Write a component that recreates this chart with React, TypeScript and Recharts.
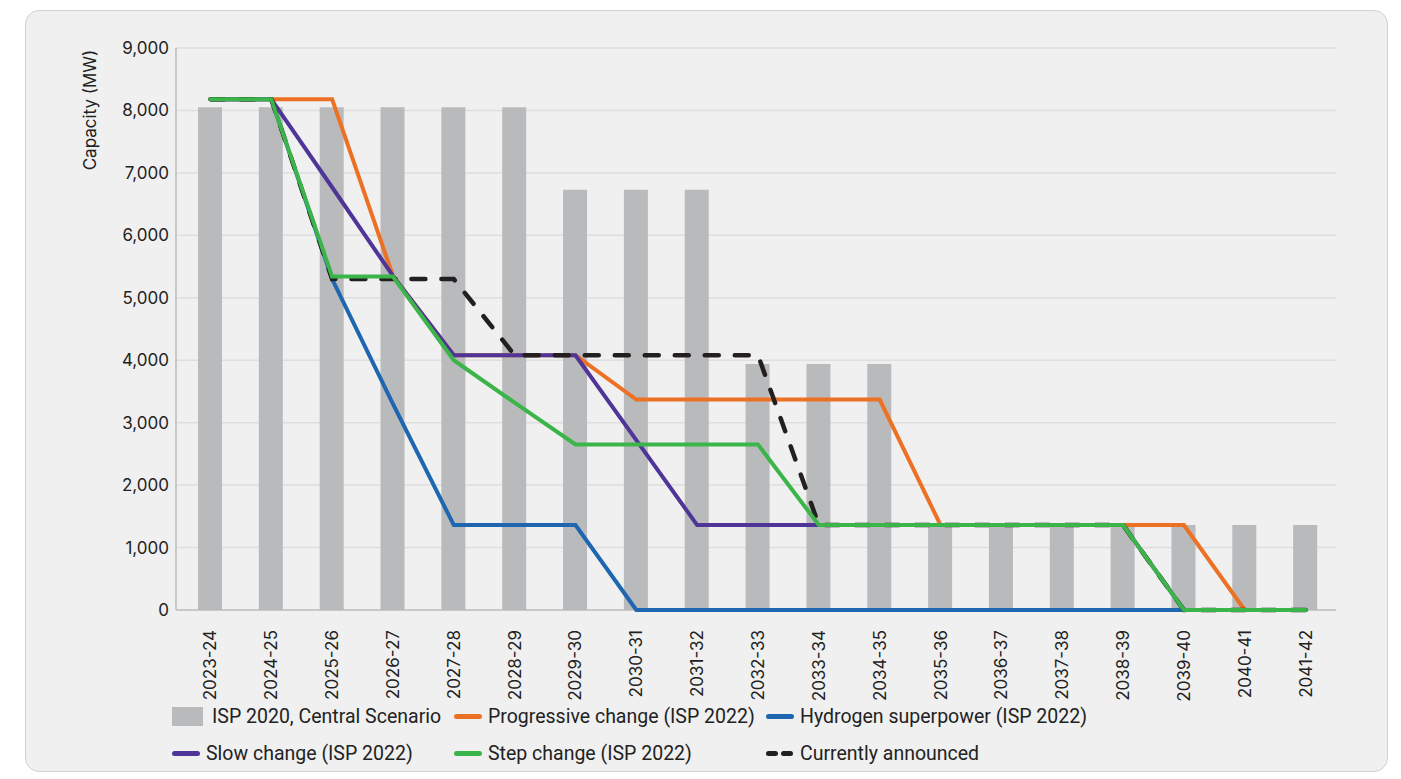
import { Bar, ComposedChart, Line, XAxis, YAxis, CartesianGrid } from 'recharts'

const categories = [
  '2023-24', '2024-25', '2025-26', '2026-27', '2027-28', '2028-29', '2029-30',
  '2030-31', '2031-32', '2032-33', '2033-34', '2034-35', '2035-36', '2036-37',
  '2037-38', '2038-39', '2039-40', '2040-41', '2041-42',
]

const isp2020 = [8050, 8050, 8050, 8050, 8050, 8050, 6730, 6730, 6730, 3940, 3940, 3940, 1360, 1360, 1360, 1360, 1360, 1360, 1360]
const progressive = [8180, 8180, 8180, 5350, 4080, 4080, 4080, 3370, 3370, 3370, 3370, 3370, 1360, 1360, 1360, 1360, 1360, 0, 0]
const hydrogen = [8180, 8180, 5300, 3300, 1360, 1360, 1360, 0, 0, 0, 0, 0, 0, 0, 0, 0, 0, 0, 0]
const slow = [8180, 8180, 6770, 5350, 4080, 4080, 4080, 2720, 1360, 1360, 1360, 1360, 1360, 1360, 1360, 1360, 0, 0, 0]
const step = [8180, 8180, 5340, 5340, 4000, 3320, 2650, 2650, 2650, 2650, 1360, 1360, 1360, 1360, 1360, 1360, 0, 0, 0]
const announced = [8180, 8180, 5300, 5300, 5300, 4080, 4080, 4080, 4080, 4080, 1360, 1360, 1360, 1360, 1360, 1360, 0, 0, 0]

const yTicks = [0, 1000, 2000, 3000, 4000, 5000, 6000, 7000, 8000, 9000]

const data = categories.map((name, i) => ({
  name,
  isp2020: isp2020[i],
  progressive: progressive[i],
  hydrogen: hydrogen[i],
  slow: slow[i],
  step: step[i],
  announced: announced[i],
}))

const FONT = 'Inter, "Noto Sans", sans-serif'

const legendItems = [
  { label: 'ISP 2020, Central Scenario', color: '#b9babb', kind: 'box' },
  { label: 'Progressive change (ISP 2022)', color: '#ec7125', kind: 'line' },
  { label: 'Hydrogen superpower (ISP 2022)', color: '#1f66b1', kind: 'line' },
  { label: 'Slow change (ISP 2022)', color: '#4f3597', kind: 'line' },
  { label: 'Step change (ISP 2022)', color: '#3bb54a', kind: 'line' },
  { label: 'Currently announced', color: '#231f20', kind: 'dash' },
]

function XTick({ x, y, payload }: any) {
  return (
    <text
      transform={`translate(${x},${y + 12}) rotate(-90)`}
      textAnchor="end"
      dominantBaseline="central"
      fontSize={17}
      fontFamily={FONT}
      fill="#222"
    >
      {payload.value}
    </text>
  )
}

function LegendIcon({ item }: any) {
  if (item.kind === 'box') {
    return <div style={{ width: 31, height: 19, background: item.color, flex: 'none' }} />
  }
  if (item.kind === 'dash') {
    return (
      <div style={{ width: 28, display: 'flex', gap: 3, flex: 'none' }}>
        <div style={{ width: 12, height: 5, borderRadius: 3, background: item.color }} />
        <div style={{ width: 12, height: 5, borderRadius: 3, background: item.color }} />
      </div>
    )
  }
  return <div style={{ width: 28, height: 5, borderRadius: 3, background: item.color, flex: 'none' }} />
}

// only the baseline of the plot, drawn in the grid layer so the series sit on top of it
const baseline = ({ offset }: any) => [offset.top + offset.height]

export default function App() {
  return (
    <div style={{ position: 'absolute', left: 0, top: 0, width: 1401, height: 779, background: '#fff', overflow: 'hidden' }}>
      <div
        style={{
          position: 'absolute',
          left: 25,
          top: 10,
          width: 1361,
          height: 760,
          background: '#f0f0f0',
          border: '1.5px solid #d2d2d2',
          borderRadius: 14,
        }}
      />
      <div style={{ position: 'absolute', left: 0, top: 0 }}>
        <ComposedChart
          width={1401}
          height={779}
          data={data}
          margin={{ top: 48, right: 65, bottom: 89, left: 96 }}
        >
          <CartesianGrid vertical={false} stroke="#dedede" strokeWidth={1.5} />
          <CartesianGrid vertical={false} stroke="#c8c8c8" strokeWidth={2} horizontalCoordinatesGenerator={baseline} />
          <XAxis
            dataKey="name"
            interval={0}
            padding={{ left: 4, right: 0 }}
            tick={<XTick />}
            tickLine={false}
            axisLine={false}
            height={80}
          />
          <YAxis
            domain={[0, 9000]}
            ticks={yTicks}
            interval={0}
            width={80}
            tickSize={0}
            tickMargin={7}
            tickLine={false}
            axisLine={{ stroke: '#c8c8c8', strokeWidth: 2 }}
            tickFormatter={(v) => v.toLocaleString('en-US')}
            tick={{ fontSize: 17, fontFamily: FONT, fill: '#222' }}
          />
          <Bar dataKey="isp2020" fill="#b9babb" barSize={24} isAnimationActive={false} />
          <Line dataKey="progressive" stroke="#ec7125" strokeWidth={4} dot={false} isAnimationActive={false} />
          <Line dataKey="hydrogen" stroke="#1f66b1" strokeWidth={4} dot={false} isAnimationActive={false} />
          <Line dataKey="slow" stroke="#4f3597" strokeWidth={4} dot={false} isAnimationActive={false} />
          <Line
            dataKey="announced"
            stroke="#231f20"
            strokeWidth={4.5}
            strokeDasharray="14 16"
            strokeLinecap="round"
            dot={false}
            isAnimationActive={false}
          />
          <Line dataKey="step" stroke="#3bb54a" strokeWidth={4} strokeLinecap="round" dot={false} isAnimationActive={false} />
        </ComposedChart>
      </div>
      <div
        style={{
          position: 'absolute',
          left: 90,
          top: 110,
          transform: 'translate(-50%, -50%) rotate(-90deg)',
          fontFamily: FONT,
          fontSize: 17,
          color: '#222',
          whiteSpace: 'nowrap',
        }}
      >
        Capacity (MW)
      </div>
      <div
        style={{
          position: 'absolute',
          left: 172,
          top: 705,
          display: 'grid',
          gridTemplateColumns: '282px 312px 340px',
          rowGap: 14,
          fontFamily: 'Roboto, sans-serif',
          fontSize: 19.5,
          color: '#222',
          whiteSpace: 'nowrap',
        }}
      >
        {legendItems.map((item) => (
          <div key={item.label} style={{ display: 'flex', alignItems: 'center', gap: 6, height: 23 }}>
            <LegendIcon item={item} />
            <span style={{ marginLeft: item.kind === 'box' ? 3 : 0 }}>{item.label}</span>
          </div>
        ))}
      </div>
    </div>
  )
}
